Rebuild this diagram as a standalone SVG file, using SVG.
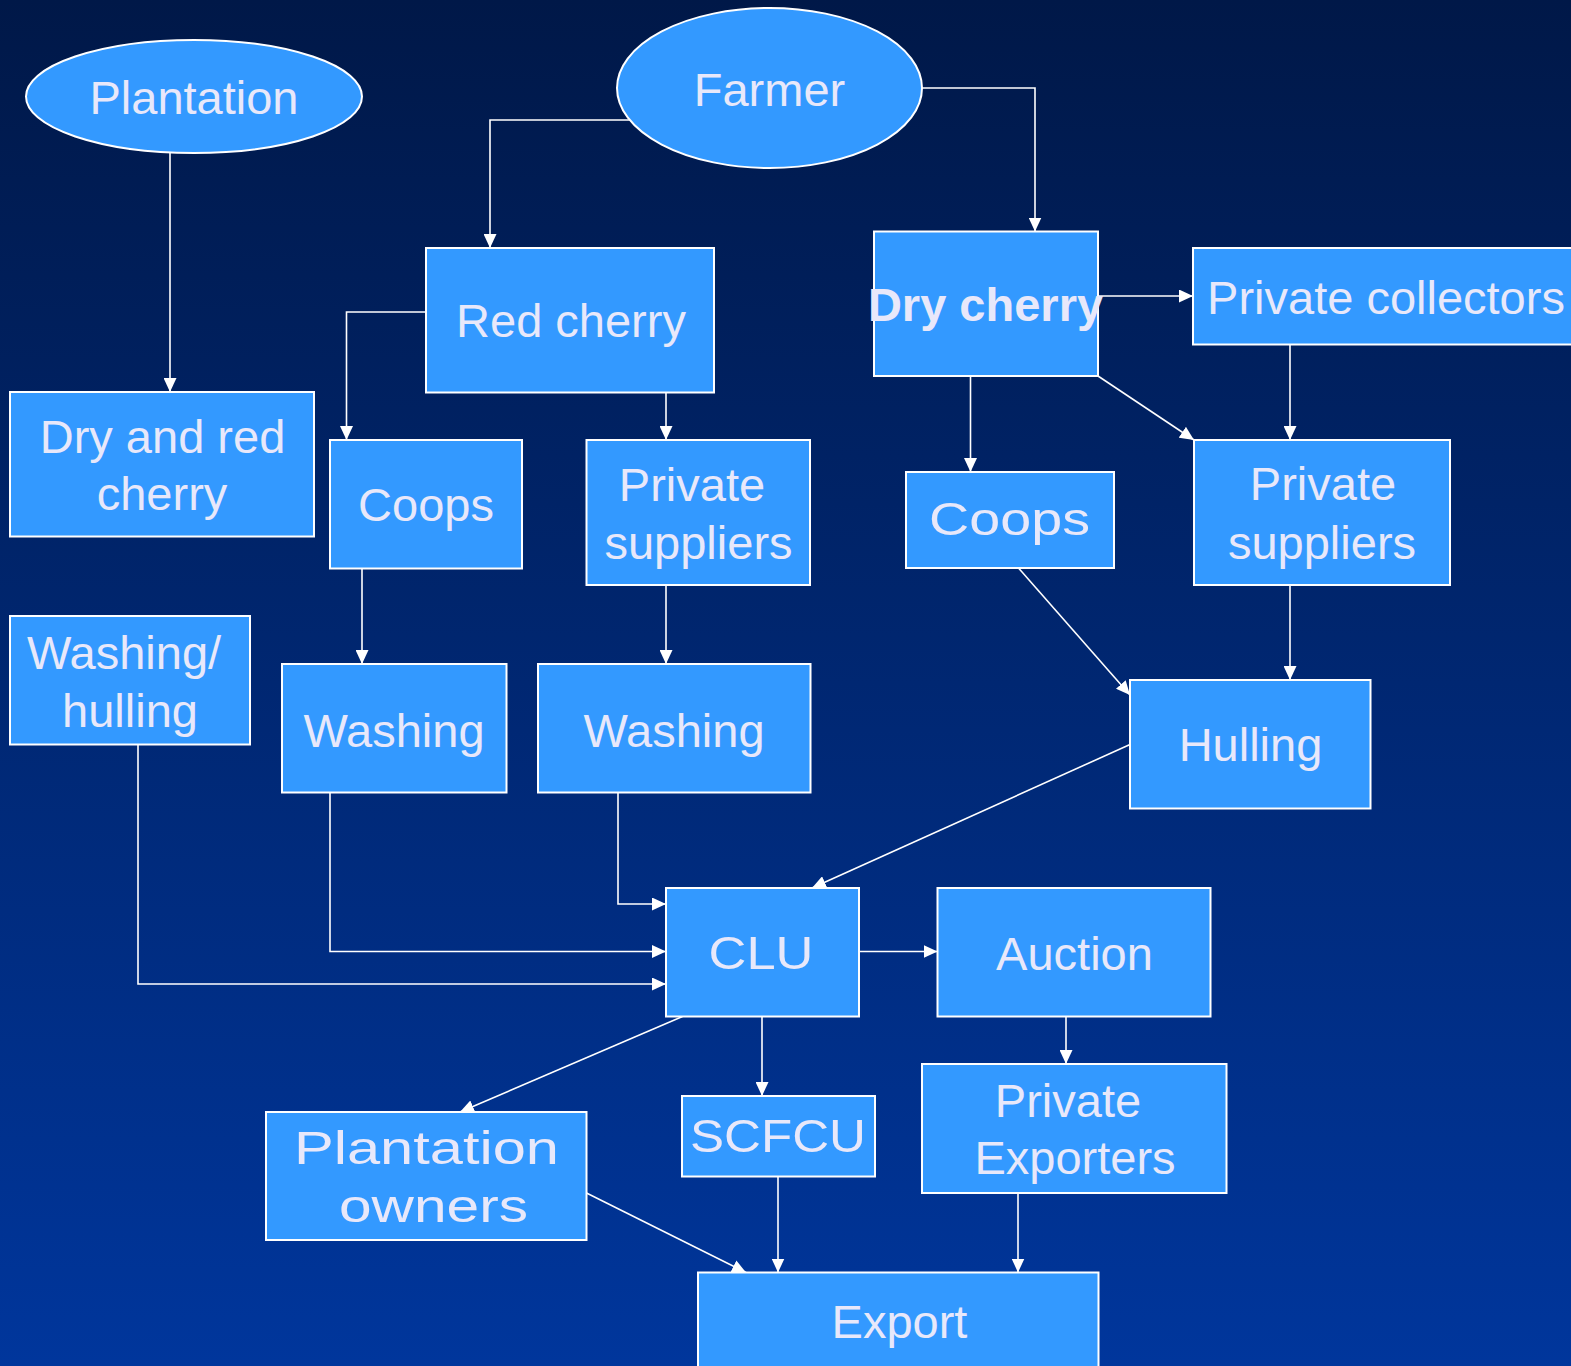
<svg xmlns="http://www.w3.org/2000/svg" width="1571" height="1366" viewBox="0 0 1571 1366">
<defs>
<linearGradient id="bg" x1="0" y1="0" x2="0" y2="1">
<stop offset="0" stop-color="#001848"/>
<stop offset="1" stop-color="#00369c"/>
</linearGradient>
<marker id="arr" markerUnits="userSpaceOnUse" markerWidth="14" markerHeight="13" refX="14" refY="6.5" orient="auto">
<path d="M0,0 L14,6.5 L0,13 z" fill="#ffffff"/>
</marker>
</defs>
<style>
.n{fill:#3399ff;stroke:#ffffff;stroke-width:2}
.t{font-family:"Liberation Sans",Arial,sans-serif;font-size:47px;fill:#e8e8fa;text-anchor:middle}
.b{font-weight:bold}
.c line,.c polyline{stroke:#ffffff;stroke-width:1.6;fill:none;marker-end:url(#arr)}
</style>
<rect x="0" y="0" width="1571" height="1366" fill="url(#bg)"/>

<g id="connectors" class="c">
<line x1="170" y1="153" x2="170" y2="392"/>
<polyline points="635,120 490,120 490,248"/>
<polyline points="922,88 1035,88 1035,231.5"/>
<polyline points="426,312 346.5,312 346.5,440"/>
<line x1="666" y1="392.5" x2="666" y2="440"/>
<line x1="1098" y1="296" x2="1193" y2="296"/>
<line x1="970.5" y1="376" x2="970.5" y2="472"/>
<line x1="1098" y1="376" x2="1194" y2="440"/>
<line x1="1290" y1="344.5" x2="1290" y2="440"/>
<line x1="362" y1="568.5" x2="362" y2="664"/>
<line x1="666" y1="585" x2="666" y2="664"/>
<line x1="1018.5" y1="568" x2="1130" y2="695"/>
<line x1="1290" y1="585" x2="1290" y2="680"/>
<line x1="1130" y1="744.5" x2="812" y2="888"/>
<polyline points="618,792.5 618,904 666,904"/>
<polyline points="330,792.5 330,951.5 666,951.5"/>
<polyline points="138,744.5 138,984 666,984"/>
<line x1="859" y1="951.5" x2="937.5" y2="951.5"/>
<line x1="682.5" y1="1016.5" x2="460" y2="1112"/>
<line x1="762" y1="1016.5" x2="762" y2="1096"/>
<line x1="1066" y1="1016.5" x2="1066" y2="1064"/>
<line x1="586.5" y1="1193" x2="746" y2="1272.5"/>
<line x1="778" y1="1176.5" x2="778" y2="1272.5"/>
<line x1="1018" y1="1193" x2="1018" y2="1272.5"/>
</g>

<g id="plantation">
<ellipse class="n" cx="194" cy="96.5" rx="168" ry="56.5" stroke-width="1.6"/>
<text class="t" x="194" y="114">Plantation</text>
</g>
<g id="farmer">
<ellipse class="n" cx="769.5" cy="88" rx="152.5" ry="80" stroke-width="1.6"/>
<text class="t" x="769.5" y="106">Farmer</text>
</g>
<g id="red-cherry">
<rect class="n" x="426" y="248" width="288" height="144.5"/>
<text class="t" x="571" y="337">Red cherry</text>
</g>
<g id="dry-cherry">
<rect class="n" x="874" y="231.5" width="224" height="144.5"/>
<text class="t b" x="985.5" y="321">Dry cherry</text>
</g>
<g id="private-collectors">
<rect class="n" x="1193" y="248" width="390" height="96.5"/>
<text class="t" x="1386" y="314">Private collectors</text>
</g>
<g id="dry-and-red-cherry">
<rect class="n" x="10" y="392" width="304" height="144.5"/>
<text class="t" x="162.5" y="453">Dry and red</text>
<text class="t" x="162" y="510">cherry</text>
</g>
<g id="coops-left">
<rect class="n" x="330" y="440" width="192" height="128.5"/>
<text class="t" x="426" y="521">Coops</text>
</g>
<g id="private-suppliers-mid">
<rect class="n" x="586.5" y="440" width="223.5" height="145"/>
<text class="t" x="692" y="500.5">Private</text>
<text class="t" x="698.5" y="559">suppliers</text>
</g>
<g id="coops-right">
<rect class="n" x="906" y="472" width="208" height="96"/>
<text class="t" x="1009.5" y="535" textLength="161" lengthAdjust="spacingAndGlyphs">Coops</text>
</g>
<g id="private-suppliers-right">
<rect class="n" x="1194" y="440" width="256" height="145"/>
<text class="t" x="1323" y="499.5">Private</text>
<text class="t" x="1322" y="558.5">suppliers</text>
</g>
<g id="washing-hulling">
<rect class="n" x="10" y="616" width="240" height="128.5"/>
<text class="t" x="124" y="669">Washing/</text>
<text class="t" x="130" y="727">hulling</text>
</g>
<g id="washing-left">
<rect class="n" x="282" y="664" width="224.5" height="128.5"/>
<text class="t" x="394" y="746.5">Washing</text>
</g>
<g id="washing-mid">
<rect class="n" x="538" y="664" width="272.5" height="128.5"/>
<text class="t" x="674" y="746.5">Washing</text>
</g>
<g id="hulling">
<rect class="n" x="1130" y="680" width="240.5" height="128.5"/>
<text class="t" x="1250.5" y="761">Hulling</text>
</g>
<g id="clu">
<rect class="n" x="666" y="888" width="193" height="128.5"/>
<text class="t" x="761" y="969" textLength="105" lengthAdjust="spacingAndGlyphs">CLU</text>
</g>
<g id="auction">
<rect class="n" x="937.5" y="888" width="273" height="128.5"/>
<text class="t" x="1074.5" y="969.5">Auction</text>
</g>
<g id="plantation-owners">
<rect class="n" x="266" y="1112" width="320.5" height="128"/>
<text class="t" x="426.5" y="1164" textLength="265" lengthAdjust="spacingAndGlyphs">Plantation</text>
<text class="t" x="433.5" y="1222" textLength="189" lengthAdjust="spacingAndGlyphs">owners</text>
</g>
<g id="scfcu">
<rect class="n" x="682" y="1096" width="193" height="80.5"/>
<text class="t" x="778" y="1152" textLength="176" lengthAdjust="spacingAndGlyphs">SCFCU</text>
</g>
<g id="private-exporters">
<rect class="n" x="922" y="1064" width="304.5" height="129"/>
<text class="t" x="1068" y="1117">Private</text>
<text class="t" x="1075" y="1174">Exporters</text>
</g>
<g id="export">
<rect class="n" x="698" y="1272.5" width="400.5" height="110"/>
<text class="t" x="899.5" y="1337.5">Export</text>
</g>
</svg>
